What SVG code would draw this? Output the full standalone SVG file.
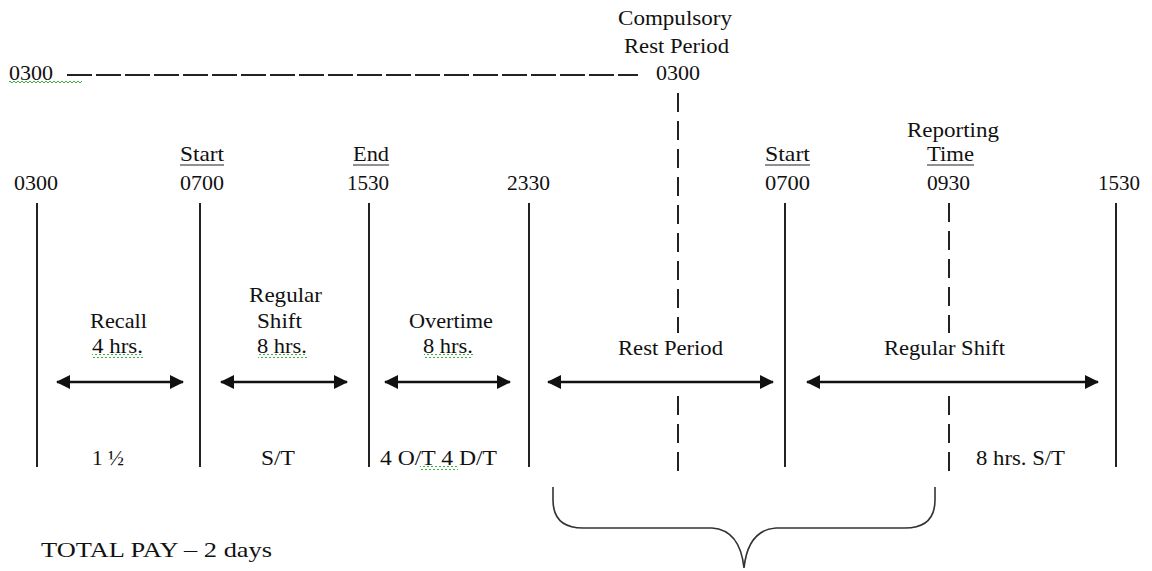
<svg xmlns="http://www.w3.org/2000/svg" width="1152" height="571" viewBox="0 0 1152 571">
<style>
  text { font-family: "Liberation Serif", "Times New Roman", serif; font-size: 21px; fill: #111; }
  .v { stroke: #222; stroke-width: 2; fill: none; }
  .d { stroke: #222; stroke-width: 2; fill: none; stroke-dasharray: 19 9; }
  .h { stroke: #222; stroke-width: 2; fill: none; stroke-dasharray: 25 4; }
  .u { stroke: #222; stroke-width: 1.2; }
  .a { stroke: #111; stroke-width: 2.5; fill: none; marker-start: url(#ah); marker-end: url(#ah); }
  .sq { fill: url(#squig); }
  .brace { stroke: #333; stroke-width: 1.6; fill: none; }
</style>
<defs>
  <marker id="ah" markerUnits="userSpaceOnUse" viewBox="0 0 14 14" refX="13" refY="7" markerWidth="14" markerHeight="14" orient="auto-start-reverse">
    <path d="M0,0 L14,7 L0,14 Z" fill="#111"/>
  </marker>
  <pattern id="squig" patternUnits="userSpaceOnUse" width="4" height="4">
    <path d="M0,3 L2,1 L4,3" stroke="#3cb043" stroke-width="1" fill="none"/>
  </pattern>
</defs>
<rect width="1152" height="571" fill="#fff"/>

<g id="header">
  <text x="618" y="25" textLength="114" lengthAdjust="spacingAndGlyphs">Compulsory</text>
  <text x="624" y="53" textLength="105" lengthAdjust="spacingAndGlyphs">Rest Period</text>
  <text x="9" y="80" textLength="44" lengthAdjust="spacingAndGlyphs">0300</text>
  <rect class="sq" x="9" y="81" width="73" height="4"/>
  <text x="656" y="80" textLength="44" lengthAdjust="spacingAndGlyphs">0300</text>
</g>

<g id="time-labels">
  <text x="14" y="190" textLength="44" lengthAdjust="spacingAndGlyphs">0300</text>
  <text x="180" y="161" textLength="44" lengthAdjust="spacingAndGlyphs">Start</text>
  <line class="u" x1="180" y1="165" x2="224" y2="165"/>
  <text x="180" y="190" textLength="44" lengthAdjust="spacingAndGlyphs">0700</text>
  <text x="353" y="161" textLength="36" lengthAdjust="spacingAndGlyphs">End</text>
  <line class="u" x1="353" y1="165" x2="389" y2="165"/>
  <text x="347" y="190" textLength="42" lengthAdjust="spacingAndGlyphs">1530</text>
  <text x="507" y="190" textLength="43" lengthAdjust="spacingAndGlyphs">2330</text>
  <text x="765" y="161" textLength="45" lengthAdjust="spacingAndGlyphs">Start</text>
  <line class="u" x1="765" y1="165" x2="810" y2="165"/>
  <text x="765" y="190" textLength="45" lengthAdjust="spacingAndGlyphs">0700</text>
  <text x="907" y="137" textLength="92" lengthAdjust="spacingAndGlyphs">Reporting</text>
  <text x="927" y="161" textLength="47" lengthAdjust="spacingAndGlyphs">Time</text>
  <line class="u" x1="927" y1="165" x2="974" y2="165"/>
  <text x="927" y="190" textLength="43" lengthAdjust="spacingAndGlyphs">0930</text>
  <text x="1098" y="190" textLength="42" lengthAdjust="spacingAndGlyphs">1530</text>
</g>

<g id="period-labels">
  <text x="90" y="328" textLength="57" lengthAdjust="spacingAndGlyphs">Recall</text>
  <text x="92" y="353" textLength="51" lengthAdjust="spacingAndGlyphs">4 hrs.</text>
  <rect class="sq" x="92" y="354" width="51" height="4"/>
  <text x="249" y="302" textLength="73" lengthAdjust="spacingAndGlyphs">Regular</text>
  <text x="257" y="328" textLength="45" lengthAdjust="spacingAndGlyphs">Shift</text>
  <text x="257" y="353" textLength="50" lengthAdjust="spacingAndGlyphs">8 hrs.</text>
  <rect class="sq" x="258" y="354" width="49" height="4"/>
  <text x="409" y="328" textLength="84" lengthAdjust="spacingAndGlyphs">Overtime</text>
  <text x="423" y="353" textLength="50" lengthAdjust="spacingAndGlyphs">8 hrs.</text>
  <rect class="sq" x="424" y="354" width="49" height="4"/>
  <text x="618" y="355" textLength="105" lengthAdjust="spacingAndGlyphs">Rest Period</text>
  <text x="884" y="355" textLength="121" lengthAdjust="spacingAndGlyphs">Regular Shift</text>
</g>

<g id="pay-labels">
  <text x="92" y="465" textLength="32" lengthAdjust="spacingAndGlyphs">1 ½</text>
  <text x="261" y="465" textLength="34" lengthAdjust="spacingAndGlyphs">S/T</text>
  <text x="380" y="465" textLength="117" lengthAdjust="spacingAndGlyphs">4 O/T  4 D/T</text>
  <rect class="sq" x="420" y="466" width="38" height="4"/>
  <text x="976" y="465" textLength="89" lengthAdjust="spacingAndGlyphs">8 hrs. S/T</text>
  <text x="41" y="557" textLength="231" lengthAdjust="spacingAndGlyphs">TOTAL PAY – 2 days</text>
</g>

<g id="connectors">
  <line class="h" x1="67" y1="75" x2="638" y2="75"/>
  <line class="v" x1="37" y1="203" x2="37" y2="467"/>
  <line class="v" x1="200" y1="203" x2="200" y2="467"/>
  <line class="v" x1="369" y1="203" x2="369" y2="467"/>
  <line class="v" x1="529" y1="203" x2="529" y2="467"/>
  <line class="v" x1="785" y1="203" x2="785" y2="467"/>
  <line class="v" x1="1116" y1="203" x2="1116" y2="467"/>
  <line class="d" x1="678" y1="93" x2="678" y2="333"/>
  <line class="d" x1="678" y1="396" x2="678" y2="473"/>
  <line class="d" x1="949" y1="203" x2="949" y2="333"/>
  <line class="d" x1="949" y1="396" x2="949" y2="473"/>
  <line class="a" x1="57" y1="382" x2="183" y2="382"/>
  <line class="a" x1="221" y1="382" x2="347" y2="382"/>
  <line class="a" x1="385" y1="382" x2="510" y2="382"/>
  <line class="a" x1="548" y1="382" x2="773" y2="382"/>
  <line class="a" x1="807" y1="382" x2="1098" y2="382"/>
  <path class="brace" d="M553,487 L553,500 Q553,528 583,528 L712,528 Q740,530 744,568 Q748,530 776,528 L905,528 Q935,528 935,500 L935,487"/>
</g>
</svg>
